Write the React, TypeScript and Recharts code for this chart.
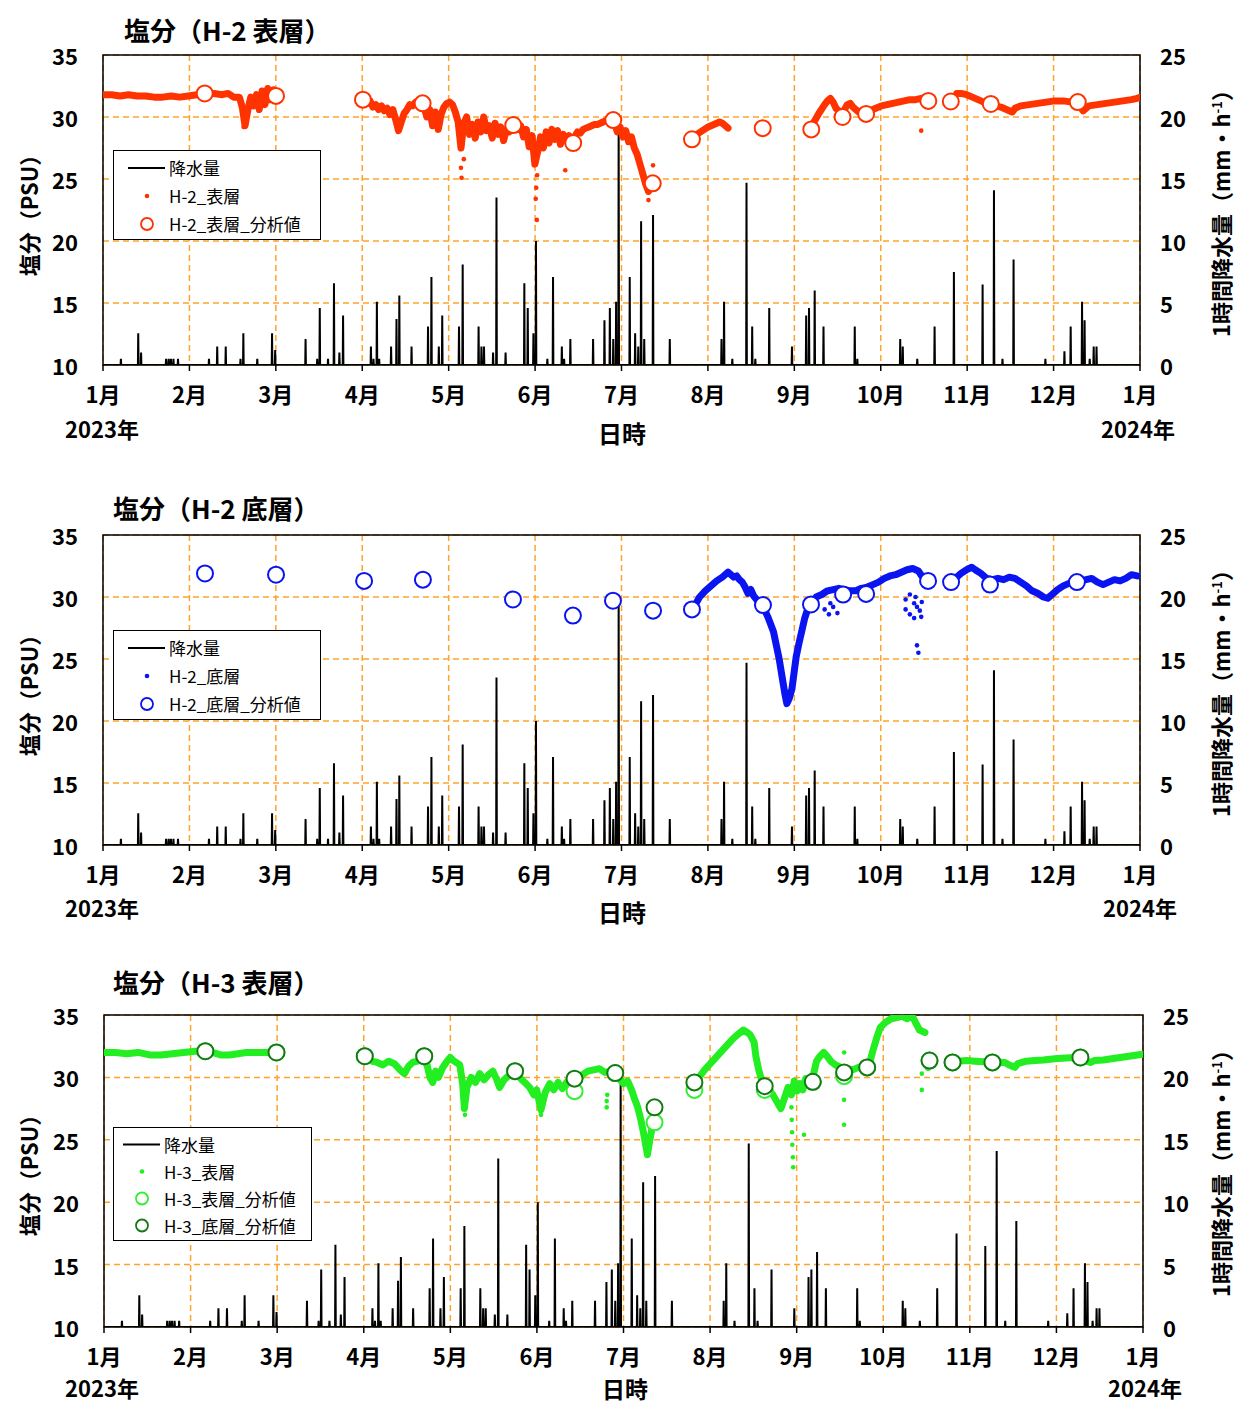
import React from "react"
import {
  CartesianGrid,
  ComposedChart,
  Line,
  ReferenceArea,
  Scatter,
  XAxis,
  YAxis,
} from "recharts"

const FONT = '"Noto Sans CJK JP", "Noto Sans", sans-serif'

// x axis: days since 2023-01-01, 12 equal divisions like the original sheet
const MONTHS = ["1月", "2月", "3月", "4月", "5月", "6月", "7月", "8月", "9月", "10月", "11月", "12月", "1月"]
const X_TICKS = MONTHS.map((_, i) => (i * 365) / 12)
const SAL_TICKS = [10, 15, 20, 25, 30, 35]
const RAIN_TICKS = [0, 5, 10, 15, 20, 25]

// hourly rainfall peaks [day, mm/h]
const RAIN: [number, number][] = [
  [6.3, 0.5], [12.4, 2.55], [13.4, 1.0], [22.2, 0.5], [23.1, 0.5], [23.9, 0.5], [24.8, 0.5], [26.4, 0.5],
  [37.3, 0.5], [40.2, 1.5], [43.2, 1.5], [48.4, 0.5], [49.4, 2.55], [54.3, 0.5], [59.5, 2.55], [60.6, 1.2],
  [71.3, 2.1], [75.4, 0.5], [76.3, 4.6], [79.2, 0.5], [81.3, 6.6], [83.2, 1.0], [84.5, 4.0], [94.3, 1.5],
  [95.2, 0.5], [96.4, 5.1], [97.2, 0.5], [101.4, 1.5], [103.3, 3.7], [104.3, 5.6], [108.6, 1.5], [114.4, 3.1],
  [115.6, 7.1], [118.2, 1.5], [119.4, 4.0], [125.3, 3.1], [126.6, 8.1], [132.2, 3.1], [133.2, 1.5], [134.1, 1.5],
  [137.3, 1.0], [138.5, 13.5], [141.7, 1.0], [148.3, 6.6], [149.5, 4.6], [151.5, 2.55], [152.4, 10.0], [156.4, 0.5],
  [158.4, 7.1], [161.5, 1.5], [162.3, 0.5], [164.5, 2.1], [172.5, 2.1], [176.5, 3.6], [178.4, 4.6], [179.6, 2.1],
  [180.6, 5.1], [181.5, 20.0], [185.4, 7.1], [187.3, 2.55], [188.4, 1.5], [189.4, 11.6], [190.5, 2.1], [193.6, 12.1],
  [199.5, 2.1], [217.7, 2.1], [218.6, 5.1], [221.5, 0.5], [226.5, 14.7], [228.5, 3.1], [229.6, 0.5], [234.5, 4.6],
  [242.5, 1.5], [247.5, 4.0], [248.5, 4.6], [250.5, 6.0], [253.6, 3.1], [264.6, 3.1], [265.5, 0.5], [280.6, 2.1],
  [281.5, 1.5], [286.6, 0.5], [292.7, 3.1], [299.5, 7.5], [309.6, 6.5], [313.6, 14.1], [316.6, 0.5], [320.5, 8.5],
  [331.7, 0.5], [338.4, 1.1], [340.6, 3.1], [344.6, 5.1], [345.5, 3.6], [347.3, 0.5], [348.7, 1.5], [349.7, 1.5],
]

// H-2 surface, continuous record [day, PSU] (null = no record)
const H2S: [number, number | null][] = [
  [0, 31.8], [3, 31.8], [6, 31.7], [9, 31.8], [12, 31.7], [15, 31.7], [18, 31.6], [21, 31.6], [24, 31.7], [27, 31.6],
  [30, 31.7], [33, 31.8], [36, 31.9], [39, 31.9], [42, 31.8], [44, 31.9], [46, 31.6], [48, 31.6], [49, 30.8], [50, 29.3],
  [51, 30.6], [52, 31.6], [53, 30.9], [54, 31.8], [55, 30.6], [56, 32.1], [57, 31.0], [58, 32.3], [59, 31.4], [60, 32.2],
  [61, 31.7], [62, null],
  [92, 31.4], [93, 31.1], [94, 31.3], [95, 30.8], [96, 31.0], [97, 30.6], [98, 30.9], [99, 30.5], [100, 30.7], [101, 30.2],
  [102, 30.6], [103, 29.8], [104, 28.9], [105, 29.6], [106, 30.3], [107, 30.6], [108, 31.0], [109, 30.9], [110, 31.2],
  [111, 31.3], [112, 31.1], [113, 30.8], [114, 30.0], [115, 30.6], [116, 29.3], [117, 30.4], [118, 29.0], [119, 30.2],
  [120, 30.8], [121, 31.1], [122, 31.2], [123, 31.0], [124, 30.4], [125, 29.6], [126, 27.5], [127, 29.5], [128, 30.0],
  [129, 28.6], [130, 29.4], [131, 28.3], [132, 29.6], [133, 28.8], [134, 30.0], [135, 28.9], [136, 29.3], [137, 28.3],
  [138, 29.5], [139, 28.6], [140, 29.2], [141, 28.1], [142, 29.0], [143, 28.8], [144, 29.4], [145, 29.6], [146, 29.0],
  [147, 29.3], [148, 28.4], [149, 29.0], [150, 27.6], [151, 28.5], [152, 26.2], [153, 27.2], [154, 28.4], [155, 27.5],
  [156, 28.8], [157, 27.9], [158, 29.0], [159, 28.2], [160, 28.9], [161, 27.8], [162, 28.6], [163, 28.1], [164, 28.5],
  [165, 28.2], [166, 28.4], [167, 28.8], [168, 28.7], [169, 29.0], [170, 29.1], [171, 29.2], [172, 29.3], [173, 29.4],
  [174, 29.4], [175, 29.5], [176, 29.6], [177, 29.7], [178, 29.8], [179, 29.9], [180, 29.6], [181, 28.8], [182, 29.2],
  [183, 28.4], [184, 28.9], [185, 28.0], [186, 28.4], [187, 27.5], [188, 27.0], [189, 26.2], [190, 25.4], [191, 24.6],
  [192, 24.0], [193, 24.3], [194, 25.0], [196, null],
  [207.5, 28.3], [209, 28.6], [211, 28.9], [213, 29.2], [215, 29.4], [217, 29.6], [218, 29.5], [219, 29.3], [220, 29.1],
  [221, null],
  [250, 29.5], [252, 30.3], [254, 31.0], [255, 31.3], [256, 31.5], [257, 31.2], [258, 30.7], [259, 30.5], [260, 30.2],
  [261, 30.6], [262, 31.0], [263, 31.1], [264, 30.8], [265, 30.6], [266, 30.4], [267, 30.3], [268, 30.3], [270, 30.5],
  [272, 30.7], [274, 30.9], [276, 31.0], [278, 31.1], [280, 31.2], [282, 31.3], [284, 31.4], [286, 31.4], [288, 31.5],
  [289, 31.3], [294, null],
  [300.5, 31.9], [302, 31.9], [304, 31.8], [306, 31.6], [308, 31.4], [310, 31.2], [312, 31.0], [314, 30.9], [316, 30.8],
  [318, 30.6], [320, 30.4], [321, 30.7], [323, 30.9], [326, 31.0], [329, 31.1], [332, 31.2], [335, 31.3], [338, 31.3],
  [341, 31.2], [343, 31.2], [344, 30.8], [345, 30.5], [347, 30.9], [350, 31.0], [353, 31.1], [356, 31.2], [359, 31.3],
  [362, 31.4], [364, 31.5], [365, 31.6],
]
const H2S_STRAY: [number, number][] = [
  [49.5, 29.2], [126.2, 25.1], [126.0, 25.9], [127, 26.6], [152.3, 23.4], [152.5, 24.3], [152.7, 21.7], [152.8, 25.3],
  [162.7, 25.7], [192, 23.3], [193.6, 26.1], [288, 28.9],
]
const H2S_LAB: [number, number][] = [
  [35.8, 31.9], [60.9, 31.7], [91.5, 31.4], [112.5, 31.1], [144.4, 29.35], [165.5, 27.9], [179.6, 29.75], [193.5, 24.65],
  [207.3, 28.2], [232.2, 29.1], [249.3, 29.0], [260.3, 30.0], [268.6, 30.25], [290.5, 31.3], [298.4, 31.25],
  [312.5, 31.05], [343.1, 31.2],
]

// H-2 bottom
const H2B: [number, number | null][] = [
  [208.5, 29.4], [210, 30.0], [212, 30.5], [214, 30.9], [216, 31.3], [218, 31.6], [220, 32.0], [221, 31.8], [222, 31.6],
  [223, 31.7], [224, 31.4], [225, 31.2], [226, 30.8], [227, 30.3], [228, 30.6], [229, 30.1], [230, 29.8], [231, 29.5],
  [232, 29.3], [233, 28.9], [234, 28.4], [235, 27.8], [236, 27.2], [237, 26.1], [238, 25.0], [239, 23.6], [240, 22.2],
  [240.7, 21.4], [241.5, 21.8], [242.5, 22.6], [243.3, 24.0], [244, 25.2], [245, 26.3], [246, 27.3], [247, 28.3],
  [248, 29.0], [249, 29.4], [250, 29.7], [251, 30.0], [253, 30.2], [255, 30.5], [257, 30.6], [259, 30.7], [261, 30.6],
  [263, 30.5], [265, 30.5], [267, 30.7], [269, 30.8], [271, 31.0], [273, 31.2], [275, 31.5], [277, 31.7], [279, 31.8],
  [281, 32.0], [283, 32.2], [285, 32.3], [287, 32.1], [288.5, 31.6], [294, null],
  [300.5, 31.6], [302, 31.9], [304, 32.2], [305.8, 32.4], [307, 32.2], [309, 31.9], [311, 31.5], [313, 31.4], [315, 31.5],
  [317, 31.4], [319, 31.6], [321, 31.5], [323, 31.2], [325, 30.9], [327, 30.5], [329, 30.3], [331, 30.0], [332.5, 29.9],
  [334, 30.2], [336, 30.6], [338, 30.9], [340, 31.1], [342, 31.2], [344, 31.3], [346, 31.4], [348, 31.5], [350, 31.2],
  [352, 31.0], [354, 31.2], [356, 31.4], [358, 31.3], [360, 31.5], [362, 31.8], [364, 31.7],
]
const H2B_STRAY: [number, number][] = [
  [254, 29.0], [255.5, 28.6], [256, 29.5], [257, 29.2], [258.5, 28.7], [282.5, 29.8], [282.5, 29.0], [284, 30.2],
  [284, 28.6], [285.5, 29.5], [285.5, 28.3], [286, 30.0], [286.5, 29.2], [286.5, 26.1], [287, 25.5], [287.5, 28.9],
  [288, 28.4], [288.2, 29.6],
]
const H2B_LAB: [number, number][] = [
  [35.9, 31.9], [60.9, 31.8], [91.9, 31.3], [112.6, 31.4], [144.3, 29.8], [165.4, 28.5], [179.5, 29.7], [193.6, 28.9],
  [207.3, 29.0], [232.3, 29.35], [249.2, 29.4], [260.5, 30.2], [268.6, 30.25], [290.4, 31.3], [298.5, 31.2],
  [312.2, 31.0], [342.8, 31.2],
]

// H-3 surface
const H3S: [number, number | null][] = [
  [0, 32.0], [4, 32.0], [8, 31.9], [12, 32.0], [16, 31.8], [20, 31.8], [24, 31.9], [28, 32.0], [32, 32.1], [35.6, 32.1],
  [38, 32.0], [41, 31.8], [44, 31.8], [47, 31.9], [50, 32.0], [53, 32.0], [56, 32.0], [60.6, 32.0], [62, null],
  [92, 31.6], [94, 31.3], [96, 31.2], [98, 31.0], [100, 31.3], [102, 31.1], [104, 30.6], [105.5, 30.3], [107, 30.9],
  [108.5, 31.2], [110, 31.3], [112, 31.5], [113.5, 31.0], [114.5, 30.0], [115.5, 29.6], [116.5, 30.5], [117.5, 30.0],
  [119, 30.8], [120.5, 31.3], [121.6, 31.6], [123, 31.3], [125, 31.0], [126, 29.5], [126.6, 27.5], [127.5, 29.2],
  [129, 30.0], [130.5, 29.6], [132, 30.3], [133.5, 29.8], [135, 30.2], [136.6, 30.5], [138, 29.8], [139, 29.2],
  [140.5, 29.8], [142, 30.1], [144.4, 30.4], [146, 30.0], [147.8, 29.6], [149.5, 29.2], [151, 28.6], [152, 29.0],
  [153.5, 27.4], [155, 28.8], [156.6, 29.5], [158, 29.0], [159.5, 29.6], [161, 29.1], [162.5, 29.6], [164, 29.8],
  [166, 29.6], [168, 30.2], [170, 30.5], [172, 30.6], [174, 30.7], [176, 30.4], [178, 30.5], [179.6, 30.3], [181, 29.9],
  [182.5, 29.5], [184, 29.7], [185.5, 28.9], [186.5, 28.2], [187.5, 27.6], [188.5, 26.7], [189.5, 25.6], [190.3, 24.6],
  [190.9, 23.8], [191.7, 24.9], [192.5, 25.9], [193.4, 26.8], [195, null],
  [207.4, 29.4], [209, 30.0], [211, 30.6], [213, 31.1], [215, 31.6], [217, 32.1], [219, 32.6], [221, 33.1], [223, 33.5],
  [224.6, 33.8], [226, 33.6], [227, 33.4], [228.4, 32.8], [229, 31.7], [230, 30.6], [231, 29.8], [232, 29.3],
  [233.5, 29.0], [235, 28.6], [236.5, 28.0], [237.8, 27.5], [239, 28.3], [240.3, 29.2], [241.5, 28.6], [242.5, 29.7],
  [243.5, 28.9], [244.5, 29.5], [245.5, 29.0], [246.5, 29.9], [248, 29.6], [249, 30.0], [250.3, 31.3], [251.5, 31.7],
  [252.8, 32.0], [254, 31.7], [255.3, 31.3], [257, 31.0], [259, 30.8], [261, 30.7], [263, 30.6], [265, 30.8], [267, 30.9],
  [268.5, 31.0], [269.5, 31.6], [270.3, 32.3], [271.5, 33.2], [272.7, 34.0], [274.5, 34.4], [276.5, 34.7], [278.5, 34.8],
  [280.3, 34.9], [282, 34.7], [284, 34.9], [285.3, 34.3], [286.5, 33.8], [288.4, 33.6], [289, null],
  [289.5, 30.8], [290.5, 31.4], [291.5, null],
  [300, 31.3], [303, 31.35], [306, 31.3], [309, 31.25], [312, 31.2], [314, 31.2], [316.5, 31.2], [318, 31.0], [320, 30.8],
  [321, 31.1], [324, 31.3], [327, 31.35], [330, 31.4], [334, 31.5], [338, 31.55], [341, 31.6], [343, 31.6], [345, 31.3],
  [346.5, 31.2], [348, 31.35], [351, 31.4], [354, 31.5], [357, 31.6], [360, 31.7], [363, 31.8], [365, 31.85],
]
const H3S_STRAY: [number, number][] = [
  [176.6, 28.1], [176.6, 27.6], [176.8, 28.6], [126.8, 27.0], [153.5, 27.0], [241.5, 27.6], [241.6, 26.6],
  [241.7, 25.6], [241.8, 24.6], [242, 23.6], [242.1, 22.8], [245.9, 25.4], [260, 32.0], [260, 28.2], [260, 26.2],
  [287.3, 30.3], [287.3, 29.0],
]
const H3S_LAB: [number, number][] = [
  [35.6, 32.1], [60.6, 32.0], [91.6, 31.7], [112.5, 31.7], [144.4, 30.5], [165.3, 28.9], [179.6, 30.35], [193.4, 26.4],
  [207.4, 29.0], [232.1, 29.0], [249, 29.65], [260, 30.1], [268.1, 30.8], [290, 31.35], [298.1, 31.2], [312.1, 31.2],
  [343, 31.6],
]
const H3B_LAB: [number, number][] = [
  [35.6, 32.1], [60.6, 32.0], [91.6, 31.7], [112.5, 31.7], [144.4, 30.5], [165.3, 29.9], [179.6, 30.35], [193.4, 27.6],
  [207.4, 29.6], [232.1, 29.3], [249, 29.65], [260, 30.4], [268.1, 30.8], [290, 31.35], [298.1, 31.2], [312.1, 31.2],
  [343, 31.6],
]

const rainRows = () => {
  const out: { d: number; r: number }[] = [{ d: 0, r: 0 }]
  ;[...RAIN].sort((a, b) => a[0] - b[0]).forEach(([d, v]) => {
    out.push({ d: d - 0.12, r: 0 }, { d, r: v }, { d: d + 0.12, r: 0 })
  })
  out.push({ d: 365, r: 0 })
  return out
}
const rows = (list: [number, number | null][]) => list.map(([d, s]) => ({ d, s }))

const LeftTick = (p: any) => (
  <text x={p.x} y={p.y} textAnchor="end" dominantBaseline="central" fontFamily={FONT} fontSize={22} fontWeight={700} fill="#000">
    {p.payload.value}
  </text>
)
const RightTick = (p: any) => (
  <text x={p.x} y={p.y} textAnchor="start" dominantBaseline="central" fontFamily={FONT} fontSize={22} fontWeight={700} fill="#000">
    {p.payload.value}
  </text>
)
const MonthTick = (p: any) => (
  <text x={p.x} y={p.y + 20} textAnchor="middle" dominantBaseline="central" fontFamily={FONT} fontSize={22} fontWeight={700} fill="#000">
    {MONTHS[Math.round(p.payload.value / (365 / 12))]}
  </text>
)

const dotShape = (color: string) => (p: any) => <circle cx={p.cx} cy={p.cy} r={2.3} fill={color} />
const ringShape = (color: string) => (p: any) => (
  <circle cx={p.cx} cy={p.cy} r={8} fill="#fff" stroke={color} strokeWidth={2} />
)

type LegendRow = { kind: "line" | "dot" | "ring"; color: string; label: string }
type Ring = { color: string; data: [number, number][] }

function Legend({ left, top, width, rows: items, gap, mark }: { left: number; top: number; width: number; rows: LegendRow[]; gap: number; mark: number }) {
  return (
    <div
      style={{
        position: "absolute", left, top, width, height: items.length * gap + 6, background: "#fff",
        border: "1.5px solid #000", boxSizing: "border-box", fontFamily: FONT, fontSize: 17,
      }}
    >
      {items.map((it, i) => (
        <div key={i} style={{ position: "absolute", left: 0, top: 3 + i * gap, height: gap, width: "100%" }}>
          <svg width={mark * 2 + 10} height={gap} style={{ position: "absolute", left: 0, top: 0 }}>
            {it.kind === "line" && <line x1={mark - 19} x2={mark + 18} y1={gap / 2} y2={gap / 2} stroke="#000" strokeWidth={2} />}
            {it.kind === "dot" && <circle cx={mark} cy={gap / 2} r={2.3} fill={it.color} />}
            {it.kind === "ring" && <circle cx={mark} cy={gap / 2} r={6} fill="#fff" stroke={it.color} strokeWidth={1.8} />}
          </svg>
          <div style={{ position: "absolute", left: mark + 22, top: 0, lineHeight: gap + "px", whiteSpace: "nowrap" }}>{it.label}</div>
        </div>
      ))}
    </div>
  )
}

const txt = (extra: React.CSSProperties): React.CSSProperties => ({
  position: "absolute", fontFamily: FONT, fontWeight: 700, whiteSpace: "nowrap", color: "#000",
  transform: "translate(-50%, -50%)", lineHeight: 1, ...extra,
})

function Panel(props: {
  top: number; plotH: number; title: string; titleX: number; titleY: number; ml: number; mr: number
  series: [number, number | null][]; stray: [number, number][]; color: string; rings: Ring[]
  legend: LegendRow[]; legendTop: number; legendW: number; legendGap: number; legendMark: number
  xLabelY: number; midY: number; midSize: number; endX: number; midX: number
}) {
  const h = 55 + props.plotH + 95
  return (
    <div style={{ position: "absolute", left: 0, top: props.top, width: 1240, height: h }}>
      <div style={txt({ left: props.titleX, top: props.titleY, fontSize: 26, transform: "translate(0, -50%)" })}>{props.title}</div>
      <ComposedChart width={1240} height={h} margin={{ top: 55, right: props.mr, bottom: 65, left: props.ml }}>
        <CartesianGrid yAxisId="sal" stroke="#FFA32A" strokeWidth={1.5} strokeDasharray="6 4" />
        <XAxis
          type="number" dataKey="d" domain={[0, 365]} ticks={X_TICKS} allowDataOverflow axisLine={false}
          tickSize={6} tickMargin={2} tickLine={{ stroke: "#000", strokeWidth: 1.5 }} tick={<MonthTick />} height={30}
          interval={0}
        />
        <YAxis
          yAxisId="sal" domain={[10, 35]} ticks={SAL_TICKS} allowDataOverflow axisLine={false} tickLine={false}
          tickSize={0} tickMargin={25} tick={<LeftTick />} width={60} interval={0}
        />
        <YAxis
          yAxisId="rain" orientation="right" domain={[0, 25]} ticks={RAIN_TICKS} allowDataOverflow axisLine={false}
          tickLine={false} tickSize={0} tickMargin={20} tick={<RightTick />} width={60} interval={0}
        />
        <Line
          yAxisId="rain" data={rainRows()} dataKey="r" type="linear" stroke="#000" strokeWidth={2}
          dot={false} isAnimationActive={false}
        />
        <Line
          yAxisId="sal" data={rows(props.series)} dataKey="s" type="linear" stroke={props.color} strokeWidth={7}
          strokeLinejoin="round" strokeLinecap="round" dot={false} isAnimationActive={false}
        />
        <Scatter
          yAxisId="sal" data={rows(props.stray)} dataKey="s" shape={dotShape(props.color)} isAnimationActive={false}
        />
        {props.rings.map((r, i) => (
          <Scatter key={i} yAxisId="sal" data={rows(r.data)} dataKey="s" shape={ringShape(r.color)} isAnimationActive={false} />
        ))}
        <ReferenceArea
          yAxisId="sal" x1={0} x2={365} y1={10} y2={35} fill="none" fillOpacity={0} stroke="#000" strokeWidth={1.5}
          ifOverflow="visible"
        />
      </ComposedChart>
      <Legend left={113} top={props.legendTop} width={props.legendW} rows={props.legend} gap={props.legendGap} mark={props.legendMark} />
      <div style={txt({ left: 28, top: 210, fontSize: 22, transform: "translate(-50%, -50%) rotate(-90deg)" })}>塩分（PSU）</div>
      <div style={txt({ left: 1220, top: 208, fontSize: 22, transform: "translate(-50%, -50%) rotate(-90deg)" })}>
        1時間降水量（mm・h<sup style={{ fontSize: 13 }}>-1</sup>）
      </div>
      <div style={txt({ left: 102, top: props.xLabelY, fontSize: 22 })}>2023年</div>
      <div style={txt({ left: props.midX, top: props.midY, fontSize: props.midSize })}>日時</div>
      <div style={txt({ left: props.endX, top: props.xLabelY, fontSize: 22 })}>2024年</div>
    </div>
  )
}

export default function App() {
  return (
    <div style={{ position: "absolute", left: 0, top: 0, width: 1240, height: 1405, background: "#fff" }}>
      <Panel
        top={0} plotH={310} title="塩分（H-2 表層）" titleX={124} titleY={30} ml={43} mr={40}
        series={H2S} stray={H2S_STRAY} color="#FF3300" rings={[{ color: "#FF3300", data: H2S_LAB }]}
        legend={[
          { kind: "line", color: "#000", label: "降水量" },
          { kind: "dot", color: "#FF3300", label: "H-2_表層" },
          { kind: "ring", color: "#FF3300", label: "H-2_表層_分析値" },
        ]}
        legendTop={150} legendW={208} legendGap={28} legendMark={33} xLabelY={428} midY={433} midSize={24} endX={1138} midX={622}
      />
      <Panel
        top={480} plotH={310} title="塩分（H-2 底層）" titleX={113} titleY={28} ml={43} mr={40}
        series={H2B} stray={H2B_STRAY} color="#0A14F0" rings={[{ color: "#0A14F0", data: H2B_LAB }]}
        legend={[
          { kind: "line", color: "#000", label: "降水量" },
          { kind: "dot", color: "#0A14F0", label: "H-2_底層" },
          { kind: "ring", color: "#0A14F0", label: "H-2_底層_分析値" },
        ]}
        legendTop={150} legendW={208} legendGap={28} legendMark={33} xLabelY={427} midY={432} midSize={24} endX={1140} midX={622}
      />
      <Panel
        top={960} plotH={312} title="塩分（H-3 表層）" titleX={113} titleY={22} ml={44} mr={37}
        series={H3S} stray={H3S_STRAY} color="#22EE22"
        rings={[{ color: "#33EE33", data: H3S_LAB }, { color: "#157A15", data: H3B_LAB }]}
        legend={[
          { kind: "line", color: "#000", label: "降水量" },
          { kind: "dot", color: "#22EE22", label: "H-3_表層" },
          { kind: "ring", color: "#33EE33", label: "H-3_表層_分析値" },
          { kind: "ring", color: "#157A15", label: "H-3_底層_分析値" },
        ]}
        legendTop={167} legendW={199} legendGap={27} legendMark={28} xLabelY={427} midY={428} midSize={23} endX={1145} midX={625}
      />
    </div>
  )
}
